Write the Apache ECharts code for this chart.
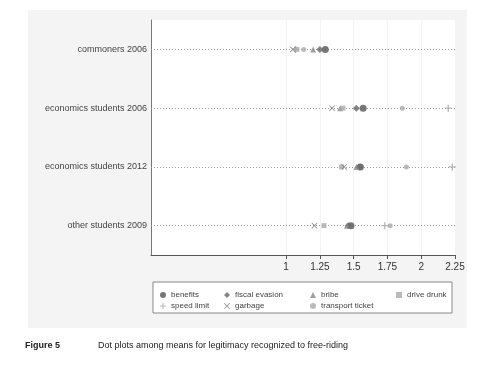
<!DOCTYPE html>
<html>
<head>
<meta charset="utf-8">
<script src="https://cdn.jsdelivr.net/npm/echarts@6/dist/echarts.min.js"></script>
<style>
  html, body { margin: 0; padding: 0; background: #fff; }
  #chart { width: 480px; height: 367px; }
</style>
</head>
<body>
<div id="chart"></div>
<script>
    // groups on the vertical axis, top to bottom
    const groups = ['commoners 2006', 'economics students 2006', 'economics students 2012', 'other students 2009'];

    // mean legitimacy per item, same order as groups
    const benefits = [1.29, 1.57, 1.55, 1.48];
    const fiscalEvasion = [1.25, 1.52, 1.54, 1.46];
    const bribe = [1.20, 1.40, 1.52, 1.45];
    const driveDrunk = [1.08, 1.42, 1.41, 1.28];
    const speedLimit = [1.07, 2.20, 2.23, 1.73];
    const garbage = [1.05, 1.34, 1.43, 1.21];
    const transportTicket = [1.13, 1.86, 1.89, 1.77];

    const xTicks = [1, 1.25, 1.5, 1.75, 2, 2.25];

    const PLUS = 'path://M4,0L6,0L6,4L10,4L10,6L6,6L6,10L4,10L4,6L0,6L0,4L4,4Z';
    const CROSS = 'path://M1,0L5,4L9,0L10,1L6,5L10,9L9,10L5,6L1,10L0,9L4,5L0,1Z';

    let chart = echarts.init(document.getElementById('chart'));

    function pairs(values) {
        return values.map(function (v, i) { return [v, groups[i]]; });
    }

    function dots(name, values, symbol, size, color) {
        return {
            name: name,
            type: 'scatter',
            data: pairs(values),
            symbol: symbol,
            symbolSize: size,
            itemStyle: { color: color },
            z: 3
        };
    }

    let series = [
        dots('benefits', benefits, 'circle', 7, '#555'),
        dots('fiscal evasion', fiscalEvasion, 'diamond', 7, '#666'),
        dots('bribe', bribe, 'triangle', 6, '#888'),
        dots('drive drunk', driveDrunk, 'rect', 5, '#aaa'),
        dots('speed limit', speedLimit, PLUS, 7, '#aaa'),
        dots('garbage', garbage, CROSS, 6, '#777'),
        dots('transport ticket', transportTicket, 'circle', 5, '#aaa')
    ];

    // dotted guide line along every group
    series[0].markLine = {
        silent: true,
        symbol: 'none',
        label: { show: false },
        lineStyle: { color: '#999', type: [1, 2], width: 1 },
        data: groups.map(function (g) { return { yAxis: g }; }),
        z: 1
    };

    function legendColumn(left, names) {
        return {
            orient: 'vertical',
            left: left,
            top: 286,
            itemWidth: 6,
            itemHeight: 6,
            itemGap: 3,
            data: names,
            textStyle: { fontSize: 8, color: '#444', fontFamily: 'Liberation Sans' },
            selectedMode: false
        };
    }

    let option = {
        animation: false,
        textStyle: { fontFamily: 'Liberation Sans' },
        graphic: [
            {
                type: 'rect', z: -10,
                shape: { x: 28, y: 10, width: 439, height: 318 },
                style: { fill: '#f4f4f4' }
            },
            {
                type: 'rect', z: -5,
                shape: { x: 153, y: 282, width: 299, height: 31 },
                style: { fill: '#fff', stroke: '#888', lineWidth: 1 }
            },
            {
                type: 'text', left: 25, top: 341,
                style: { text: 'Figure 5', font: 'bold 9px "Liberation Sans"', fill: '#222' }
            },
            {
                type: 'text', left: 98, top: 341,
                style: { text: 'Dot plots among means for legitimacy recognized to free-riding', font: '9px "Liberation Sans"', fill: '#222' }
            }
        ],
        grid: {
            left: 151,
            right: 25,
            top: 20,
            bottom: 112,
            show: true,
            backgroundColor: '#fff',
            borderWidth: 0
        },
        xAxis: {
            type: 'value',
            min: 0,
            max: 2.25,
            interval: 0.25,
            axisLine: { show: true, lineStyle: { color: '#555' } },
            axisTick: { show: true, customValues: xTicks, length: 4, lineStyle: { color: '#555' } },
            axisLabel: { customValues: xTicks, fontSize: 10, color: '#333', margin: 7 },
            splitLine: { show: true, lineStyle: { color: '#f3f3f3' } }
        },
        yAxis: {
            type: 'category',
            data: groups,
            inverse: true,
            axisLine: { show: true, lineStyle: { color: '#777' } },
            axisTick: { show: false },
            axisLabel: { fontSize: 9, color: '#444', margin: 4 },
            splitLine: { show: false }
        },
        legend: [
            legendColumn(155, ['benefits', 'speed limit']),
            legendColumn(219, ['fiscal evasion', 'garbage']),
            legendColumn(305, ['bribe', 'transport ticket']),
            legendColumn(391, ['drive drunk'])
        ],
        series: series
    };
    chart.setOption(option);

    window.addEventListener('resize', function () {
        chart.resize();
    });
</script>
</body>
</html>
